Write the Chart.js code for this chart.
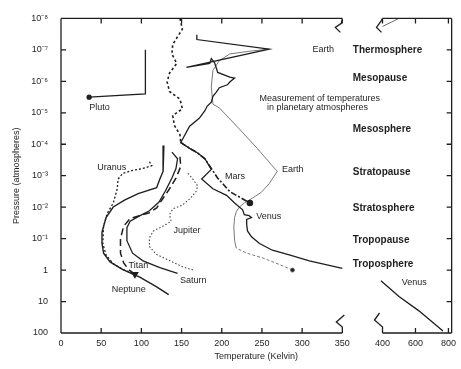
<!DOCTYPE html>
<html>
<head>
<meta charset="utf-8">
<script src="https://cdn.jsdelivr.net/npm/chart.js@4.4.0/dist/chart.umd.min.js"></script>
<style>
  body { margin: 0; background: #fff; }
  #wrap { width: 461px; height: 369px; }
</style>
</head>
<body>
<div id="wrap"><canvas id="myChart" width="461" height="369"></canvas></div>
<script>
// temperature (K) / pressure (atm)
const plutoTemp = [35, 105, 105];
const plutoPres = [3.2e-6, 2.5e-6, 1e-7];

const marsTemp = [148, 151, 139, 138, 144, 135, 132, 135, 148, 151, 139, 141, 148, 149, 160, 170, 179, 187, 195, 210, 235];
const marsPres = [1e-8, 2.2e-8, 6.7e-8, 1.35e-7, 2.7e-7, 5.5e-7, 1.05e-6, 2.1e-6, 3.7e-6, 7.5e-6, 1.23e-5, 2.5e-5, 5e-5, 8.8e-5, 1.35e-4, 1.9e-4, 2.9e-4, 5.9e-4, 1.2e-3, 3.2e-3, 7.4e-3];

const venusTemp = [350, 309, 284, 263, 247, 237, 232, 231, 231, 237, 234, 228, 226, 216, 206, 189, 175, 187, 179, 170,
  160, 149, 160, 172, 179, 182, 187, 189, 193, 197, 207, 210, 216, 210, 195, 191, 187, 185, 156, 259, 169, 169];
const venusPres = [0.89, 0.51, 0.33, 0.234, 0.143, 0.0875, 0.057, 0.035, 0.0245, 0.0214, 0.0186, 0.0173, 0.0122, 7.4e-3, 4.2e-3, 2.6e-3, 1.28e-3, 6.3e-4, 2.9e-4, 1.9e-4,
  1.35e-4, 8.8e-5, 2.66e-5, 1.5e-5, 8.6e-6, 6.1e-6, 4.6e-6, 3e-6, 2.26e-6, 1.6e-6, 1.29e-6, 1.05e-6, 7.9e-7, 7.3e-7, 5.2e-7, 2.55e-7, 1.9e-7, 2.7e-7, 3.6e-7, 9.5e-8, 4.7e-8, 3.3e-8];
const venusDeepTemp = [398, 500, 621, 767];
const venusDeepPres = [2.2, 6.9, 19.8, 87];

const earthTemp = [288, 272, 251, 231, 218, 216, 215, 216, 218, 222, 228, 238, 249, 259, 269, 244, 222, 197, 189, 187, 189, 197, 210, 235, 259];
const earthPres = [1.0, 0.67, 0.41, 0.29, 0.2, 0.116, 0.043, 0.0214, 0.014, 9.9e-3, 7.4e-3, 5.2e-3, 3.4e-3, 1.8e-3, 7.3e-4, 1.34e-4, 3.3e-5, 7e-6, 5.3e-6, 1.5e-6, 4.5e-7, 2.2e-7, 1.35e-7, 1.1e-7, 9.5e-8];
const earthHotTemp = [400, 500];
const earthHotPres = [1.8e-8, 1e-8];

const neptuneTemp = [128, 127, 123, 119, 96, 79, 65, 56, 51, 51, 53, 61, 77, 98, 119, 134];
const neptunePres = [1.09e-4, 7.3e-4, 1.28e-3, 2.4e-3, 3.7e-3, 6e-3, 9.9e-3, 0.0214, 0.0615, 0.143, 0.29, 0.55, 0.96, 1.68, 3.4, 6.0];

const uranusTemp = [110, 113, 102, 89, 77, 71, 70, 65, 58, 53, 52, 56, 65, 77, 89];
const uranusPres = [3.6e-4, 4.8e-4, 5.9e-4, 6.8e-4, 8.4e-4, 1.28e-3, 2.6e-3, 7.4e-3, 0.015, 0.04, 0.143, 0.33, 0.63, 0.96, 1.27];

const titanTemp = [148, 149, 143, 135, 127, 119, 110, 98, 86, 78, 74, 74, 78, 84, 92];
const titanPres = [2.5e-4, 5.1e-4, 1.19e-3, 2.6e-3, 5.2e-3, 0.0106, 0.015, 0.0186, 0.023, 0.04, 0.1, 0.29, 0.59, 0.96, 1.36];

const saturnTemp = [138, 145, 143, 138, 130, 122, 110, 96, 86, 82, 82, 89, 102, 123, 145];
const saturnPres = [1.78e-4, 2.9e-4, 5.9e-4, 1.19e-3, 3e-3, 6.9e-3, 0.013, 0.02, 0.028, 0.045, 0.116, 0.29, 0.51, 0.83, 1.27];

const jupiterTemp = [158, 164, 170, 168, 161, 151, 139, 135, 137, 127, 115, 110, 110, 118, 133, 151, 166];
const jupiterPres = [8.4e-4, 1.28e-3, 2.1e-3, 3.2e-3, 5.2e-3, 8.6e-3, 0.0114, 0.0173, 0.028, 0.04, 0.057, 0.094, 0.177, 0.31, 0.47, 0.78, 1.03];

const tempTicks = [0, 50, 100, 150, 200, 250, 300, 350, 400, 600, 800];
const presTicks = [1e-8, 1e-7, 1e-6, 1e-5, 1e-4, 1e-3, 1e-2, 1e-1, 1, 10, 100];
const presLabels = ['10⁻⁸', '10⁻⁷', '10⁻⁶', '10⁻⁵', '10⁻⁴', '10⁻³', '10⁻²', '10⁻¹', '1', '10', '100'];

// axis is broken after 350 K, above 400 K it is squeezed
const toAxis = t => t <= 400 ? t : 400 + (t - 400) * 0.205;
const pts = (ts, ps) => ts.map((t, i) => ({ x: toAxis(t), y: ps[i] }));

const INK = '#1e1e1e';
const FONT = "'Liberation Sans', Arial, sans-serif";

function line(data, extra) {
    return Object.assign({
        data: data,
        showLine: true,
        borderColor: INK,
        backgroundColor: INK,
        borderWidth: 1.3,
        pointRadius: 0,
        tension: 0
    }, extra);
}

const datasets = [
    line(pts(plutoTemp, plutoPres), { pointRadius: c => c.dataIndex === 0 ? 2 : 0 }),
    line(pts(marsTemp, marsPres), {
        borderWidth: 1.6,
        segment: { borderDash: c => c.p0DataIndex >= 13 ? [6, 2, 2, 2] : [2.5, 2.5] },
        pointRadius: c => c.dataIndex === marsTemp.length - 1 ? 2.5 : 0
    }),
    line(pts(venusTemp, venusPres)),
    line(pts(venusDeepTemp, venusDeepPres)),
    line(pts(earthTemp, earthPres), {
        borderColor: '#6a6a6a', backgroundColor: INK, borderWidth: 0.9,
        segment: { borderDash: c => c.p0DataIndex < 4 ? [3, 2] : undefined },
        pointRadius: c => c.dataIndex === 0 ? 2 : 0
    }),
    line(pts(earthHotTemp, earthHotPres), { borderColor: '#6a6a6a', borderWidth: 1 }),
    line(pts(neptuneTemp, neptunePres), { borderWidth: 1.4 }),
    line(pts(uranusTemp, uranusPres), { borderDash: [2, 2], borderWidth: 1.3 }),
    line(pts(titanTemp, titanPres), {
        borderDash: [7, 4], borderWidth: 1.5,
        pointStyle: 'triangle', rotation: 180,
        pointRadius: c => c.dataIndex === titanTemp.length - 1 ? 3 : 0
    }),
    line(pts(saturnTemp, saturnPres)),
    line(pts(jupiterTemp, jupiterPres), { borderDash: [1.5, 2], borderWidth: 1.1, borderColor: '#444' })
];

// planet names and layer names
const notes = [
    ['Pluto', 35, 7e-6], ['Uranus', 45, 5.5e-4], ['Mars', 204, 1.03e-3], ['Earth', 275, 6.3e-4],
    ['Earth', 313, 9.5e-8], ['Venus', 243, 0.02], ['Jupiter', 140, 0.057], ['Titan', 84, 0.72],
    ['Saturn', 148, 2.08], ['Neptune', 63, 4.2], ['Venus', 517, 2.57]
];
const layers = [
    ['Thermosphere', 1e-7], ['Mesopause', 7.9e-7], ['Mesosphere', 3.3e-5], ['Stratopause', 7.8e-4],
    ['Stratosphere', 0.0106], ['Tropopause', 0.116], ['Troposphere', 0.63]
];

const decor = {
    id: 'decor',
    afterDatasetsDraw(chart) {
        const { ctx, chartArea: a, scales: { x, y } } = chart;
        const b1 = x.getPixelForValue(toAxis(350));
        const b2 = x.getPixelForValue(toAxis(400));
        ctx.save();
        ctx.strokeStyle = INK;
        ctx.lineWidth = 1.3;
        ctx.beginPath();
        ctx.moveTo(a.left, a.top); ctx.lineTo(a.left, a.bottom);
        ctx.moveTo(a.right, a.top); ctx.lineTo(a.right, a.bottom);
        [a.top, a.bottom].forEach(yy => {
            ctx.moveTo(a.left, yy); ctx.lineTo(b1, yy);
            ctx.moveTo(b2, yy); ctx.lineTo(a.right, yy);
        });
        // break marks
        const squig = (x0, y0, p) => {
            ctx.moveTo(x0 + p[0][0], y0 + p[0][1]);
            p.slice(1).forEach(q => ctx.lineTo(x0 + q[0], y0 + q[1]));
        };
        squig(b1, a.bottom, [[2, -18], [-6, -11], [0, -6], [0, 0]]);
        squig(b2, a.bottom, [[-3, -20], [-8, -13], [0, -6], [0, 0]]);
        squig(b1, a.top, [[0, 0], [-1, 5], [-7, 9], [-2, 14]]);
        squig(b2, a.top, [[0, 0], [-1, 2], [-6, 9], [-1, 14]]);
        // inward ticks
        x.ticks.forEach(t => {
            const px = x.getPixelForValue(t.value);
            ctx.moveTo(px, a.bottom); ctx.lineTo(px, a.bottom - 5);
            ctx.moveTo(px, a.top); ctx.lineTo(px, a.top + 5);
        });
        y.ticks.forEach(t => {
            const py = y.getPixelForValue(t.value);
            ctx.moveTo(a.left, py); ctx.lineTo(a.left + 5, py);
            ctx.moveTo(a.right - 5, py); ctx.lineTo(a.right, py);
        });
        ctx.stroke();

        ctx.fillStyle = INK;
        ctx.textBaseline = 'middle';
        ctx.textAlign = 'left';
        ctx.font = '9px ' + FONT;
        notes.forEach(n => ctx.fillText(n[0], x.getPixelForValue(toAxis(n[1])), y.getPixelForValue(n[2])));
        ctx.textAlign = 'center';
        ctx.fillText('Measurement of temperatures', x.getPixelForValue(322), y.getPixelForValue(3.5e-6));
        ctx.fillText('in planetary atmospheres', x.getPixelForValue(319), y.getPixelForValue(7e-6));
        ctx.textAlign = 'left';
        ctx.font = 'bold 10px ' + FONT;
        layers.forEach(l => ctx.fillText(l[0], x.getPixelForValue(363), y.getPixelForValue(l[1])));
        ctx.restore();
    }
};

new Chart(document.getElementById('myChart'), {
    type: 'scatter',
    data: { datasets: datasets },
    options: {
        responsive: false,
        animation: false,
        devicePixelRatio: 1,
        layout: { padding: { left: 0, right: 8, top: 6, bottom: 0 } },
        plugins: { legend: { display: false }, tooltip: { enabled: false } },
        scales: {
            x: {
                type: 'linear',
                min: 0,
                max: 486,
                afterBuildTicks: s => { s.ticks = tempTicks.map(t => ({ value: toAxis(t) })); },
                afterFit: s => { s.height = 36; },
                grid: { display: false, drawTicks: false },
                border: { display: false },
                ticks: {
                    autoSkip: false, maxRotation: 0, padding: 5, color: INK,
                    font: { family: FONT, size: 9 },
                    callback: (v, i) => String(tempTicks[i])
                },
                title: {
                    display: true, text: 'Temperature (Kelvin)', color: INK,
                    font: { family: FONT, size: 9 }, padding: { top: 0, bottom: 7 }
                }
            },
            y: {
                type: 'logarithmic',
                reverse: true,
                min: 1e-8,
                max: 100,
                afterBuildTicks: s => { s.ticks = presTicks.map(v => ({ value: v })); },
                afterFit: s => { s.width = 61; },
                grid: { display: false, drawTicks: false },
                border: { display: false },
                ticks: {
                    autoSkip: false, padding: 13, color: INK,
                    font: { family: FONT, size: 9 },
                    callback: (v, i) => presLabels[i]
                },
                title: {
                    display: true, text: 'Pressure (atmospheres)', color: INK,
                    font: { family: FONT, size: 9 }, padding: { top: 11, bottom: 0 }
                }
            }
        }
    },
    plugins: [decor]
});
</script>
</body>
</html>
